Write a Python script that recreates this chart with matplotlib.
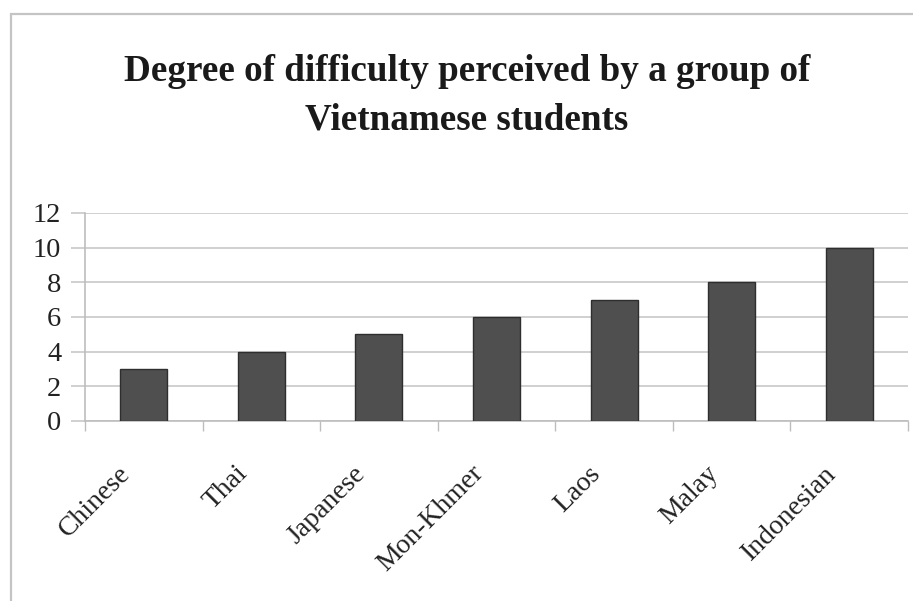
import matplotlib
matplotlib.use("Agg")
import matplotlib.pyplot as plt
import matplotlib.transforms as mtransforms
from matplotlib.patches import Rectangle
import numpy as np

categories = ["Chinese", "Thai", "Japanese", "Mon-Khmer", "Laos", "Malay", "Indonesian"]
values = [3, 4, 5, 6, 7, 8, 10]
yticks = [0, 2, 4, 6, 8, 10, 12]
title = "Degree of difficulty perceived by a group of\nVietnamese students"

W, H = 913, 601
fig = plt.figure(figsize=(W / 100, H / 100), dpi=100)
plt.rcParams['font.family'] = ['Liberation Serif', 'DejaVu Serif']

# outer chart border
fig.patches.append(Rectangle((11 / W, -0.1), 1.2, 1 - 14 / H + 0.1, transform=fig.transFigure,
                             fill=False, edgecolor='#c4c4c4', linewidth=1.6, zorder=0))

ax = fig.add_axes([85 / W, 1 - 421 / H, (908 - 85) / W, (421 - 213) / H])
x = np.arange(len(categories))
ax.bar(x, values, width=0.40, color='#4f4f4f', edgecolor='#2e2e2e', linewidth=1.0, zorder=3)

ax.set_xlim(-0.5, len(categories) - 0.5)
ax.set_ylim(0, 12)
ax.set_yticks(yticks)
ax.set_yticklabels([str(v) for v in yticks], fontsize=20.5, color='#222222')
ax.yaxis.grid(True, color='#c8c8c8', linewidth=1.2, zorder=0)
ax.tick_params(axis='y', length=10, color='#c8c8c8', width=1.2, pad=7)

# category boundary ticks
ax.set_xticks(np.arange(len(categories) + 1) - 0.5, minor=False)
ax.set_xticklabels([])
ax.tick_params(axis='x', length=7, color='#bdbdbd', width=1.0)

offset = mtransforms.ScaledTranslation(-26 / 100, -40 / 100, fig.dpi_scale_trans)
for xi, lab in zip(x, categories):
    ax.text(xi, 0, lab, rotation=45, ha='right', va='top', rotation_mode='anchor',
            fontsize=20, color='#222222',
            transform=ax.get_xaxis_transform() + offset)

for s in ['top', 'right']:
    ax.spines[s].set_visible(False)
ax.spines['left'].set_color('#bdbdbd')
ax.spines['bottom'].set_color('#bdbdbd')
ax.spines['left'].set_linewidth(1.2)
ax.spines['bottom'].set_linewidth(1.2)

fig.text(467 / W, 1 - 96 / H, title, ha='center', va='center', fontsize=26.7,
         fontweight='bold', color='#1a1a1a', linespacing=1.5)

fig.savefig("out.png", dpi=100)
